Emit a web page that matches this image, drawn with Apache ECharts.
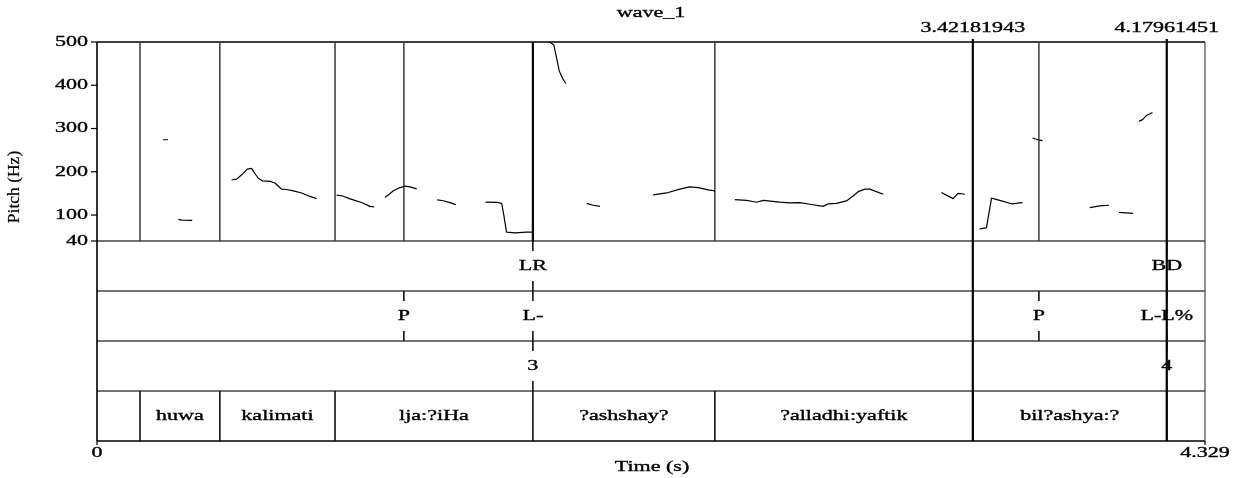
<!DOCTYPE html>
<html><head><meta charset="utf-8">
<script src="https://cdn.jsdelivr.net/npm/echarts@6/dist/echarts.min.js"></script>
<style>html,body{margin:0;padding:0;background:#fff}#c{width:1237px;height:478px}</style>
</head><body><div id="c"></div>
<script>
// ---------------- data ----------------
const chartTitle = 'wave_1';
const xName = 'Time (s)';
const yName = 'Pitch (Hz)';
const timeRange = [0, 4.329];
const pitchRange = [40, 500];
const yTickValues = [40, 100, 200, 300, 400, 500];
const yTickLabels = ['40', '100', '200', '300', '400', '500'];
const xTickValues = [0, 4.329];
const xTickLabels = ['0', '4.329'];

const wordBounds = [0.168, 0.480, 0.930, 1.703, 2.414, 3.4218, 4.1796];
const wordLabels = ['', 'huwa', 'kalimati', 'lja:?iHa', '?ashshay?', '?alladhi:yaftik', 'bil?ashya:?', ''];
const breakTimes = [1.703, 4.1796];
const breakLabels = ['LR', 'BD'];
const toneTimes = [1.199, 1.703, 3.680, 4.1796];
const toneLabels = ['P', 'L-', 'P', 'L-L%'];
const indexTimes = [1.703, 4.1796];
const indexLabels = ['3', '4'];
const markerTimes = [3.42181943, 4.17961451];
const markerLabels = ['3.42181943', '4.17961451'];

// pitch contour pieces: [time (s), pitch (Hz)]
const seg01 = [[0.258, 274], [0.277, 274]];
const seg02 = [[0.318, 90], [0.331, 88.4], [0.372, 87.7]];
const seg03 = [[0.526, 181], [0.546, 183], [0.565, 193], [0.587, 206], [0.604, 208], [0.617, 196], [0.630, 185], [0.647, 179], [0.676, 178], [0.695, 174], [0.708, 167], [0.721, 160], [0.741, 159], [0.767, 156], [0.800, 151], [0.832, 143], [0.858, 138]];
const seg04 = [[0.936, 146], [0.960, 144], [0.986, 138], [1.034, 129], [1.066, 120], [1.083, 119]];
const seg05 = [[1.125, 141], [1.138, 146.5], [1.158, 156], [1.184, 163.5], [1.203, 167], [1.223, 165], [1.249, 160.5]];
const seg06 = [[1.329, 135], [1.353, 133], [1.379, 128.6], [1.402, 124]];
const seg07 = [[1.518, 130], [1.561, 129.5], [1.581, 127], [1.590, 98], [1.600, 60.5], [1.633, 59], [1.678, 60.5], [1.702, 60.5]];
const seg08 = [[1.768, 500], [1.785, 493], [1.796, 462], [1.806, 433], [1.819, 416], [1.832, 404]];
const seg09 = [[1.913, 127], [1.939, 122.6], [1.965, 120]];
const seg10 = [[2.173, 146.5], [2.232, 152], [2.277, 160], [2.316, 165], [2.349, 163.5], [2.388, 158], [2.414, 156]];
const seg11 = [[2.492, 135.6], [2.538, 134], [2.577, 129.5], [2.603, 134], [2.668, 130], [2.707, 128], [2.746, 128.6], [2.785, 125], [2.837, 120], [2.857, 126], [2.889, 127], [2.928, 132.6], [2.954, 144], [2.974, 154], [3.000, 160], [3.020, 160], [3.045, 154], [3.072, 148]];
const seg12 = [[3.299, 152], [3.345, 138], [3.364, 150], [3.391, 148]];
const seg13 = [[3.449, 68], [3.475, 70.4], [3.495, 139], [3.527, 134], [3.573, 126], [3.616, 128.6]];
const seg14 = [[3.655, 278], [3.677, 274], [3.694, 272]];
const seg15 = [[3.879, 117], [3.918, 121], [3.954, 122.6]];
const seg16 = [[3.993, 106], [4.048, 104]];
const seg17 = [[4.071, 317], [4.084, 320], [4.100, 330], [4.120, 336], [4.124, 336]];
const pitchSegments = [seg01, seg02, seg03, seg04, seg05, seg06, seg07, seg08, seg09, seg10, seg11, seg12, seg13, seg14, seg15, seg16, seg17];

// ---------------- style ----------------
const FONT = '"Liberation Serif", "Times New Roman", serif';
const FS = 15;
const SX = 1.47;
const TIER_LINE = '#454545';
const THIN = '#3a3a3a';
const TEXT_STYLE = { fill: '#000', stroke: '#000', lineWidth: 0.35, fontFamily: FONT, align: 'center', verticalAlign: 'middle' };

function lineEl(x1, y1, x2, y2, stroke, w) {
  return { type: 'line', shape: { x1, y1, x2, y2 }, style: { stroke, lineWidth: w } };
}
function textEl(x, y, text, align, size) {
  return { type: 'text', x, y, scaleX: SX, z2: 10,
    style: Object.assign({}, TEXT_STYLE, { text, fontSize: size || FS, align: align || 'center' }) };
}

const chart = echarts.init(document.getElementById('c'), null, { renderer: 'canvas' });
const T0 = timeRange[0], T1 = timeRange[1];
const P0 = pitchRange[0], P1 = pitchRange[1];

// lines continuing from the tiers into the pitch panel
const allTierTimes = [...wordBounds, ...toneTimes, ...breakTimes, ...indexTimes];
const pitchLineTimes = Array.from(new Set(allTierTimes)).filter(t => markerTimes.every(m => Math.abs(m - t) > 0.01));
function countOf(t) { return allTierTimes.filter(v => Math.abs(v - t) < 1e-6).length; }

const series = [];

// pitch contour
pitchSegments.forEach(seg => {
  series.push({ type: 'line', xAxisIndex: 0, yAxisIndex: 0, data: seg, symbol: 'none', clip: true,
    lineStyle: { color: '#000', width: 1.2 }, silent: true, z: 5 });
});

// pitch panel frame
series.push({ type: 'custom', xAxisIndex: 0, yAxisIndex: 0, data: [[T0, P0]], silent: true, z: 3,
  renderItem(params, api) {
    const tl = api.coord([T0, P1]), tr = api.coord([T1, P1]), bl = api.coord([T0, P0]), br = api.coord([T1, P0]);
    return { type: 'group', children: [
      lineEl(tl[0], tl[1], tr[0], tr[1], '#000', 1.6),
      lineEl(tr[0], tr[1], br[0], br[1], '#555', 1.3),
      lineEl(bl[0], bl[1], br[0], br[1], TIER_LINE, 1.5),
      lineEl(tl[0], tl[1], bl[0], bl[1], '#000', 1.6)
    ] };
  } });

// y ticks and labels
series.push({ type: 'custom', xAxisIndex: 0, yAxisIndex: 0, data: yTickValues.map(v => [T0, v]), silent: true, z: 3,
  renderItem(params, api) {
    const p = api.coord([T0, api.value(1)]);
    return { type: 'group', children: [
      lineEl(p[0] - 6, p[1], p[0], p[1], '#000', 1.2),
      textEl(p[0] - 9, p[1], yTickLabels[params.dataIndex], 'right')
    ] };
  } });

// vertical lines in pitch panel
series.push({ type: 'custom', xAxisIndex: 0, yAxisIndex: 0, data: pitchLineTimes.map(t => [t, P0]), silent: true, z: 4,
  renderItem(params, api) {
    const t = api.value(0);
    const a = api.coord([t, P1]), b = api.coord([t, P0]);
    const heavy = countOf(t) > 1;
    return lineEl(a[0], a[1], b[0], b[1], heavy ? '#000' : THIN, heavy ? 2.2 : 1.5);
  } });

// marker lines (pitch panel part) and their labels
series.push({ type: 'custom', xAxisIndex: 0, yAxisIndex: 0, data: markerTimes.map(t => [t, P0]), silent: true, z: 6,
  renderItem(params, api) {
    const t = api.value(0);
    const a = api.coord([t, P1]), b = api.coord([t, P0]);
    return { type: 'group', children: [
      lineEl(a[0], a[1] - 3, b[0], b[1], '#000', 2.2),
      textEl(a[0], a[1] - 14, markerLabels[params.dataIndex], 'center')
    ] };
  } });

// tier frame
series.push({ type: 'custom', xAxisIndex: 1, yAxisIndex: 1, data: [[T0, 0]], silent: true, z: 3,
  renderItem(params, api) {
    const ch = [];
    for (let k = 1; k <= 3; k++) {
      const a = api.coord([T0, k]), b = api.coord([T1, k]);
      ch.push(lineEl(a[0], a[1], b[0], b[1], TIER_LINE, 1.5));
    }
    const tl = api.coord([T0, 0]), tr = api.coord([T1, 0]), bl = api.coord([T0, 4]), br = api.coord([T1, 4]);
    ch.push(lineEl(bl[0], bl[1], br[0], br[1], '#000', 1.6));
    ch.push(lineEl(tl[0], tl[1], bl[0], bl[1], '#000', 1.6));
    ch.push(lineEl(tr[0], tr[1], br[0], br[1], '#555', 1.3));
    return { type: 'group', children: ch };
  } });

// x ticks and labels
series.push({ type: 'custom', xAxisIndex: 1, yAxisIndex: 1, data: xTickValues.map(v => [v, 4]), silent: true, z: 3,
  renderItem(params, api) {
    const p = api.coord([api.value(0), 4]);
    return { type: 'group', children: [
      lineEl(p[0], p[1], p[0], p[1] + 4, '#000', 1.2),
      textEl(p[0], p[1] + 12, xTickLabels[params.dataIndex], 'center')
    ] };
  } });

// word (interval) tier, tier index 3
const wordEdges = [T0, ...wordBounds, T1];
series.push({ type: 'custom', xAxisIndex: 1, yAxisIndex: 1, data: wordLabels.map((w, i) => [wordEdges[i], wordEdges[i + 1]]), silent: true, z: 4,
  renderItem(params, api) {
    const s = api.value(0), e = api.value(1);
    const a = api.coord([s, 3]), b = api.coord([s, 4]);
    const m = api.coord([(s + e) / 2, 3.5]);
    const ch = [textEl(m[0], m[1], wordLabels[params.dataIndex], 'center')];
    if (s > T0) ch.push(lineEl(a[0], a[1], b[0], b[1], '#111', 1.6));
    return { type: 'group', children: ch };
  } });

// point tiers
function pointTier(tier, times, labels) {
  series.push({ type: 'custom', xAxisIndex: 1, yAxisIndex: 1, data: times.map(t => [t, tier]), silent: true, z: 4,
    renderItem(params, api) {
      const t = api.value(0);
      const a = api.coord([t, tier]), b = api.coord([t, tier + 1]);
      const tick = (b[1] - a[1]) * 0.2;
      return { type: 'group', children: [
        lineEl(a[0], a[1], a[0], a[1] + tick, '#111', 1.6),
        lineEl(b[0], b[1] - tick, b[0], b[1], '#111', 1.6),
        textEl(a[0], (a[1] + b[1]) / 2, labels[params.dataIndex], 'center')
      ] };
    } });
}
pointTier(0, breakTimes, breakLabels);
pointTier(1, toneTimes, toneLabels);
pointTier(2, indexTimes, indexLabels);

// marker lines through the tiers
series.push({ type: 'custom', xAxisIndex: 1, yAxisIndex: 1, data: markerTimes.map(t => [t, 0]), silent: true, z: 6,
  renderItem(params, api) {
    const t = api.value(0);
    const a = api.coord([t, 0]), b = api.coord([t, 4]);
    return lineEl(a[0], a[1], b[0], b[1], '#000', 2.2);
  } });

const option = {
  animation: false,
  backgroundColor: '#fff',
  grid: [
    { left: 97, right: 32, top: 42, height: 199 },
    { left: 97, right: 32, top: 241, height: 200 }
  ],
  xAxis: [
    { gridIndex: 0, type: 'value', min: T0, max: T1, show: false },
    { gridIndex: 1, type: 'value', min: T0, max: T1, show: false }
  ],
  yAxis: [
    { gridIndex: 0, type: 'value', min: P0, max: P1, show: false },
    { gridIndex: 1, type: 'value', min: 0, max: 4, inverse: true, show: false }
  ],
  graphic: [
    { type: 'text', x: 651, y: 13, scaleX: SX, style: Object.assign({}, TEXT_STYLE, { text: chartTitle, fontSize: FS }) },
    { type: 'text', x: 652, y: 467, scaleX: SX, style: Object.assign({}, TEXT_STYLE, { text: xName, fontSize: FS }) },
    { type: 'text', x: 14, y: 187, rotation: Math.PI / 2, style: Object.assign({}, TEXT_STYLE, { text: yName, fontSize: 17.5, lineWidth: 0.2 }) }
  ],
  series
};
chart.setOption(option);
</script>
</body></html>
